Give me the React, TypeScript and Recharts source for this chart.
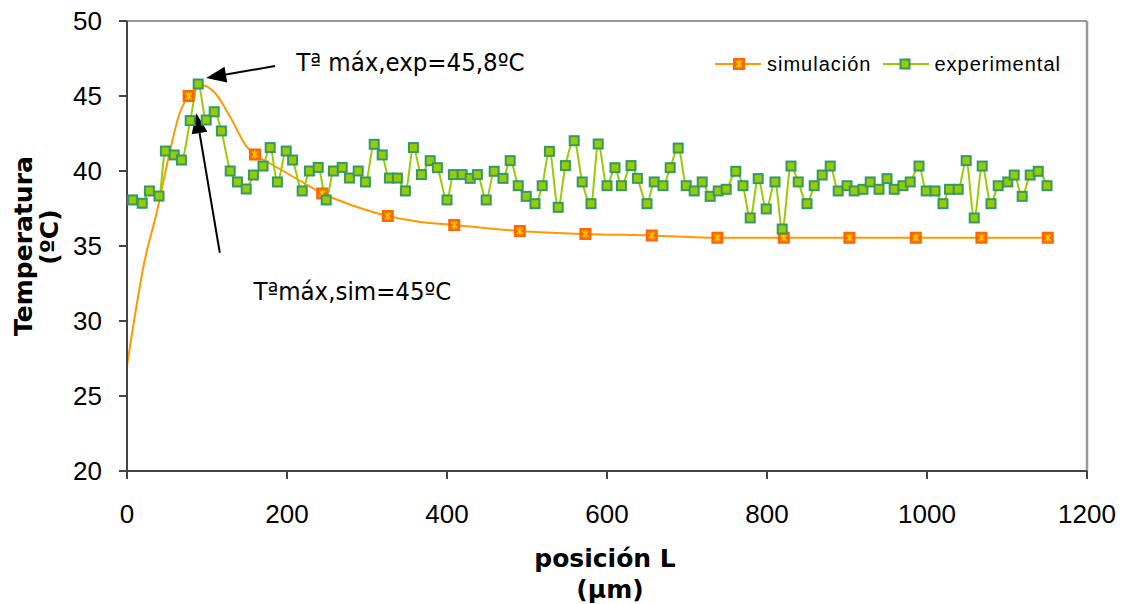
import React from 'react';
import { LineChart, Line, XAxis, YAxis, ReferenceLine, ReferenceDot } from 'recharts';

// simulación: curva suavizada, con marcador solo en algunos puntos
const simX = [0, 22, 37, 54, 66, 77, 95, 110, 129, 150, 160, 179, 221, 244, 262, 326, 367, 409, 491, 573, 656, 738, 821, 903, 986, 1068, 1151];
const simT = [27.0, 34.0, 37.2, 41.4, 43.9, 45.0, 45.7, 45.2, 43.6, 41.6, 41.1, 40.5, 39.2, 38.5, 38.1, 37.0, 36.6, 36.4, 36.0, 35.8, 35.7, 35.55, 35.55, 35.55, 35.55, 35.55, 35.55];
const simMarkerX = [77, 160, 244, 326, 409, 491, 573, 656, 738, 821, 903, 986, 1068, 1151];

// experimental
const expX = [
  7, 19, 28, 40, 48, 59, 68, 79, 89, 99,
  109, 118, 129, 138, 149, 158, 170, 179, 188, 199,
  207, 219, 228, 239, 249, 258, 269, 278, 289, 298,
  309, 319, 328, 338, 348, 358, 368, 379, 388, 400,
  408, 419, 429, 438, 449, 459, 470, 479, 489, 499,
  510, 519, 528, 539, 548, 559, 569, 580, 589, 600,
  610, 618, 630, 638, 650, 659, 670, 679, 689, 699,
  709, 719, 729, 739, 749, 761, 770, 779, 789, 799,
  810, 819, 830, 839, 850, 859, 869, 879, 889, 900,
  909, 920, 929, 940, 950, 959, 970, 979, 990, 999,
  1010, 1020, 1028, 1039, 1049, 1059, 1069, 1080, 1089, 1101,
  1109, 1119, 1129, 1139, 1150,
];
const expT = [
  38.07, 37.85, 38.67, 38.33, 41.33, 41.07, 40.73, 43.36, 45.8, 43.4,
  43.95, 42.67, 40.0, 39.27, 38.8, 39.73, 40.33, 41.56, 39.27, 41.33,
  40.73, 38.67, 40.0, 40.24, 38.07, 40.0, 40.24, 39.53, 40.0, 39.27,
  41.78, 41.07, 39.53, 39.53, 38.67, 41.56, 39.76, 40.69, 40.22, 38.07,
  39.76, 39.76, 39.51, 39.76, 38.07, 39.98, 39.51, 40.69, 39.02, 38.31,
  37.82, 39.02, 41.31, 37.58, 40.36, 42.02, 39.27, 37.82, 41.8, 39.02,
  40.22, 39.02, 40.36, 39.51, 37.82, 39.27, 39.02, 40.22, 41.53, 39.02,
  38.67, 39.27, 38.31, 38.67, 38.78, 39.98, 39.02, 36.87, 39.49, 37.47,
  39.27, 36.13, 40.33, 39.27, 37.82, 39.02, 39.73, 40.33, 38.67, 39.02,
  38.67, 38.78, 39.27, 38.78, 39.49, 38.78, 39.02, 39.27, 40.33, 38.67,
  38.67, 37.82, 38.78, 38.78, 40.69, 36.87, 40.33, 37.82, 39.02, 39.27,
  39.73, 38.31, 39.73, 39.98, 39.02,
];

const xTicks = [0, 200, 400, 600, 800, 1000, 1200];
const yTicks = [20, 25, 30, 35, 40, 45, 50];

const simData = simX.map((x, i) => ({ x, t: simT[i], m: simMarkerX.includes(x) }));
const expData = expX.map((x, i) => ({ x, t: expT[i] }));

const SIM_LINE = '#ff9900';
const SIM_FILL = '#ff6600';
const SIM_STAR = '#ffcc00';
const EXP_LINE = '#99cc00';
const EXP_EDGE = '#339966';
const AXIS = '#444';
const BORDER = '#999';
const SANS = "'Liberation Sans', Arial, sans-serif";
const VERD = "'DejaVu Sans Condensed', 'DejaVu Sans', sans-serif";

const SimMarker = ({ cx, cy }: { cx: number; cy: number }) => (
  <g>
    <rect x={cx - 6} y={cy - 6} width={12} height={12} fill={SIM_FILL} />
    <line x1={cx - 3} y1={cy - 3} x2={cx + 3} y2={cy + 3} stroke={SIM_STAR} strokeWidth={1.5} />
    <line x1={cx - 3} y1={cy + 3} x2={cx + 3} y2={cy - 3} stroke={SIM_STAR} strokeWidth={1.5} />
    <line x1={cx} y1={cy - 4} x2={cx} y2={cy + 4} stroke={SIM_STAR} strokeWidth={1.5} />
  </g>
);

const ExpMarker = ({ cx, cy }: { cx: number; cy: number }) => (
  <rect x={cx - 4.5} y={cy - 4.5} width={9} height={9} fill={EXP_LINE} stroke={EXP_EDGE} strokeWidth={2} />
);

const simDot = (p: any) =>
  p.payload.m ? <SimMarker key={`s${p.index}`} cx={p.cx} cy={p.cy} /> : <g key={`s${p.index}`} />;

const expDot = (p: any) => <ExpMarker key={`e${p.index}`} cx={p.cx} cy={p.cy} />;

const Arrow = (p: any) => {
  const { x1, y1, x2, y2 } = p;
  const dx = x2 - x1;
  const dy = y2 - y1;
  const len = Math.hypot(dx, dy);
  const ux = dx / len;
  const uy = dy / len;
  const L = 20;
  const W = 8;
  const bx = x2 - ux * L;
  const by = y2 - uy * L;
  const pts = `${x2},${y2} ${bx - uy * W},${by + ux * W} ${bx + uy * W},${by - ux * W}`;
  return (
    <g>
      <line x1={x1} y1={y1} x2={bx} y2={by} stroke="#000" strokeWidth={2} />
      <polygon points={pts} fill="#000" />
    </g>
  );
};

const note = (txt: string) => (p: any) => (
  <text x={p.cx} y={p.cy} fontFamily={VERD} fontStretch="condensed" fontSize={25.5} fill="#000">
    {txt}
  </text>
);

const Legend = () => (
  <div
    style={{
      position: 'absolute', left: 715, top: 50, display: 'flex', alignItems: 'center',
      fontFamily: SANS, fontSize: 20, letterSpacing: 1, color: '#000', lineHeight: '28px',
    }}
  >
    <svg width={46} height={14}>
      <line x1={0} y1={7} x2={46} y2={7} stroke={SIM_LINE} strokeWidth={2} />
      <SimMarker cx={24} cy={7} />
    </svg>
    <span style={{ marginLeft: 6 }}>simulación</span>
    <svg width={46} height={14} style={{ marginLeft: 12 }}>
      <line x1={0} y1={7} x2={46} y2={7} stroke={EXP_LINE} strokeWidth={2} />
      <ExpMarker cx={22} cy={7} />
    </svg>
    <span style={{ marginLeft: 5 }}>experimental</span>
  </div>
);

export default function App() {
  return (
    <div style={{ position: 'relative', width: 1128, height: 604, background: '#fff' }}>
      <style>{'body{margin:0}'}</style>
      <LineChart width={1128} height={604} margin={{ top: 21, right: 41, bottom: 93, left: 0 }}>
        <XAxis
          dataKey="x"
          type="number"
          domain={[0, 1200]}
          ticks={xTicks}
          allowDuplicatedCategory={false}
          height={40}
          stroke={AXIS}
          strokeWidth={2}
          tickSize={8}
          tickMargin={26}
          tick={{ fill: '#000', fontSize: 26, fontFamily: SANS }}
        />
        <YAxis
          type="number"
          domain={[20, 50]}
          ticks={yTicks}
          width={127}
          stroke={AXIS}
          strokeWidth={2}
          tickSize={8}
          tickMargin={17}
          tick={{ fill: '#000', fontSize: 26, fontFamily: SANS }}
        />
        <ReferenceLine y={50} stroke={BORDER} strokeWidth={2} />
        <ReferenceLine x={1200} stroke={BORDER} strokeWidth={2.5} />
        <Line
          data={simData}
          dataKey="t"
          type="monotone"
          stroke={SIM_LINE}
          strokeWidth={2}
          dot={simDot}
          activeDot={false}
          isAnimationActive={false}
        />
        <Line
          data={expData}
          dataKey="t"
          type="monotone"
          stroke={EXP_LINE}
          strokeWidth={2}
          dot={expDot}
          activeDot={false}
          isAnimationActive={false}
        />
        <ReferenceLine segment={[{ x: 185, y: 47.0 }, { x: 99, y: 46.2 }]} shape={Arrow} />
        <ReferenceLine segment={[{ x: 116, y: 34.55 }, { x: 86.5, y: 43.85 }]} shape={Arrow} />
        <ReferenceDot x={211.5} y={46.67} r={0} shape={note('Tª máx,exp=45,8ºC')} />
        <ReferenceDot x={158} y={31.4} r={0} shape={note('Tªmáx,sim=45ºC')} />
      </LineChart>
      <Legend />
      <svg
        width={1128}
        height={604}
        style={{ position: 'absolute', left: 0, top: 0, pointerEvents: 'none' }}
      >
        <g fontFamily="'DejaVu Sans', sans-serif" fontWeight="bold" fontSize={25} fill="#000">
          <text x={32} y={246} textAnchor="middle" transform="rotate(-90 32 246)">Temperatura</text>
          <text x={58} y={237} textAnchor="middle" transform="rotate(-90 58 237)">(ºC)</text>
          <text x={605} y={567} textAnchor="middle">posición L</text>
          <text x={610} y={598} textAnchor="middle">(µm)</text>
        </g>
      </svg>
    </div>
  );
}
